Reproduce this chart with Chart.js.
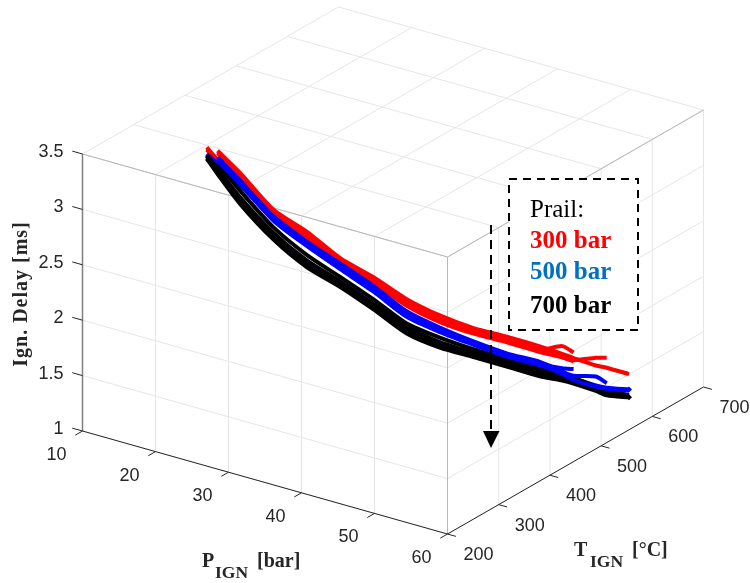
<!DOCTYPE html>
<html>
<head>
<meta charset="utf-8">
<title>Ignition delay</title>
<script src="https://cdn.jsdelivr.net/npm/chart.js@4.4.1/dist/chart.umd.min.js"></script>
<style>
  html, body { margin: 0; padding: 0; background: #fff; }
  canvas { display: block; }
</style>
</head>
<body>
<canvas id="chart" width="750" height="583"></canvas>
<script>
// axis ticks
const pTicks = [10, 20, 30, 40, 50, 60];
const tTicks = [200, 300, 400, 500, 600, 700];
const delayTicks = [1, 1.5, 2, 2.5, 3, 3.5];
const delayTickLabels = ['1', '1.5', '2', '2.5', '3', '3.5'];

// measuring stations along the compression, shared by all curves
const pIgn = [20, 21, 23, 26, 29, 32, 35, 38, 41, 44, 47, 50, 52, 53, 55, 56, 58];
const tIgn = [300, 307, 322, 345, 367, 389, 412, 434, 456, 479, 501, 523, 538, 546, 561, 568, 583];

// ignition delay [ms], null = no reading at that station
const red1 = [null, 3.45, 3.25, 2.91, 2.71, 2.47, 2.29, 2.09, 1.94, 1.82, 1.74, 1.65, 1.58, 1.54, 1.47, 1.45, 1.39];
const red2 = [3.48, 3.37, 3.21, 2.88, 2.68, 2.44, 2.25, 2.05, 1.90, 1.79, 1.71, 1.62, 1.65, 1.59, null, null, null];
const red3 = [null, 3.43, 3.23, 2.89, 2.69, 2.45, 2.27, 2.07, 1.92, 1.80, 1.72, 1.63, 1.55, 1.52, 1.54, 1.54, null];
const red4 = [3.46, 3.36, 3.19, 2.87, 2.66, 2.42, 2.24, 2.03, 1.88, 1.77, 1.69, 1.60, 1.55, 1.51, null, null, null];

const blue1 = [null, 3.39, 3.18, 2.85, 2.62, 2.42, 2.21, 1.98, 1.83, 1.70, 1.59, 1.51, 1.42, 1.36, 1.29, 1.27, 1.25];
const blue2 = [3.42, 3.33, 3.14, 2.82, 2.59, 2.39, 2.18, 1.95, 1.80, 1.68, 1.57, 1.49, 1.45, 1.44, null, null, null];
const blue3 = [null, 3.37, 3.17, 2.83, 2.60, 2.40, 2.19, 1.96, 1.81, 1.69, 1.58, 1.50, 1.42, 1.38, 1.37, 1.31, null];
const blue4 = [null, 3.36, 3.15, 2.81, 2.58, 2.37, 2.16, 1.93, 1.79, 1.67, 1.56, 1.48, 1.40, 1.34, 1.28, 1.26, 1.24];

const black1 = [3.38, 3.24, 2.97, 2.64, 2.39, 2.21, 2.00, 1.78, 1.65, 1.56, 1.47, 1.38, 1.34, 1.31, 1.24, 1.20, 1.18];
const black2 = [null, 3.34, 3.09, 2.75, 2.50, 2.30, 2.09, 1.87, 1.74, 1.63, 1.54, 1.45, 1.39, 1.36, 1.28, 1.25, 1.20];
const black3 = [3.41, 3.29, 3.03, 2.70, 2.45, 2.26, 2.05, 1.84, 1.70, 1.60, 1.51, 1.42, 1.37, 1.33, 1.26, 1.22, 1.19];
const black4 = [3.40, 3.27, 3.00, 2.67, 2.42, 2.23, 2.02, 1.81, 1.67, 1.58, 1.49, 1.40, 1.35, 1.32, 1.25, null, null];

const RED = '#ff0000', BLUE = '#0000ff', BLACK = '#000000', LEGEND_BLUE = '#0070c0';
const GRID = '#e6e6e6', EDGE = '#b8b8b8', AXIS = '#262626';

// MATLAB style orthographic view: data coordinates to the flat x/y of the chart
function projX(p, t) {
  return 82.5 + 7.3 * (p - 10) + 0.512 * (t - 200);
}
function projY(p, t, d) {
  return 431 + 2.06 * (p - 10) - 0.294 * (t - 200) - 110.8 * (d - 1);
}
function pt(p, t, d) {
  return { x: projX(p, t), y: projY(p, t, d) };
}

const datasets = [];

function segment(a, b, color, width) {
  datasets.push({
    data: [pt(a[0], a[1], a[2]), pt(b[0], b[1], b[2])],
    showLine: true, borderColor: color, borderWidth: width, pointRadius: 0
  });
}

const pMin = pTicks[0], pMax = pTicks[5];
const tMin = tTicks[0], tMax = tTicks[5];
const dMin = delayTicks[0], dMax = delayTicks[5];

// grid on the top face and on the two walls
pTicks.forEach(p => {
  segment([p, tMin, dMax], [p, tMax, dMax], GRID, 1);
  segment([p, tMin, dMin], [p, tMin, dMax], GRID, 1);
});
tTicks.forEach(t => {
  segment([pMin, t, dMax], [pMax, t, dMax], GRID, 1);
  segment([pMax, t, dMin], [pMax, t, dMax], GRID, 1);
});
delayTicks.forEach(d => {
  segment([pMin, tMin, d], [pMax, tMin, d], GRID, 1);
  segment([pMax, tMin, d], [pMax, tMax, d], GRID, 1);
});

// box edges
segment([pMin, tMin, dMax], [pMax, tMin, dMax], EDGE, 1);
segment([pMax, tMin, dMax], [pMax, tMax, dMax], EDGE, 1);
segment([pMax, tMin, dMin], [pMax, tMin, dMax], EDGE, 1);

// axes and ticks
segment([pMin, tMin, dMin], [pMin, tMin, dMax], '#808080', 1.5);
segment([pMin, tMin, dMin], [pMax, tMin, dMin], AXIS, 1);
segment([pMax, tMin, dMin], [pMax, tMax, dMin], AXIS, 1);
pTicks.forEach(p => segment([p, tMin, dMin], [p, tMin - 14, dMin], AXIS, 1));
tTicks.forEach(t => segment([pMax, t, dMin], [pMax + 1.15, t, dMin], AXIS, 1));
delayTicks.forEach(d => segment([pMin, tMin, d], [pMin - 1.4, tMin, d], AXIS, 1));

function curve(values, color, endMark) {
  const points = [];
  values.forEach((d, i) => {
    if (d !== null) points.push(pt(pIgn[i], tIgn[i], d));
  });
  datasets.push({
    data: points,
    showLine: true, borderColor: color, borderWidth: 4,
    tension: 0.25, borderCapStyle: 'butt', borderJoinStyle: 'round',
    pointStyle: 'rectRot', backgroundColor: color,
    pointBorderWidth: 0,
    pointRadius: c => (endMark && c.dataIndex === points.length - 1 ? 3 : 0)
  });
}

curve(red1, RED);
curve(red2, RED);
curve(red3, RED);
curve(red4, RED);
curve(blue1, BLUE, true);
curve(black1, BLACK, true);
curve(blue2, BLUE);
curve(black2, BLACK);
curve(black3, BLACK);
curve(blue3, BLUE);
curve(black4, BLACK);
curve(blue4, BLUE);

function label(ctx, text, x, y, font, color, align) {
  ctx.font = font;
  ctx.fillStyle = color;
  ctx.textAlign = align || 'left';
  ctx.fillText(text, x, y);
}

const overlay = {
  id: 'overlay',
  afterDatasetsDraw(chart) {
    const ctx = chart.ctx;
    const sx = chart.scales.x, sy = chart.scales.y;
    const tickFont = '18px "Liberation Sans"';
    const bold = 'bold 20px "Liberation Serif"';
    const sub = 'bold 17.5px "Liberation Serif"';
    const big = 'bold 25px "Liberation Serif"';

    ctx.save();

    // tick labels
    ctx.textBaseline = 'middle';
    delayTicks.forEach((d, i) => {
      const x = sx.getPixelForValue(projX(pMin, tMin));
      const y = sy.getPixelForValue(projY(pMin, tMin, d));
      label(ctx, delayTickLabels[i], x - 19, y - 2, tickFont, AXIS, 'right');
    });
    pTicks.forEach(p => {
      const x = sx.getPixelForValue(projX(p, tMin));
      const y = sy.getPixelForValue(projY(p, tMin, dMin));
      label(ctx, String(p), x - 26, y + 24, tickFont, AXIS, 'center');
    });
    tTicks.forEach(t => {
      const x = sx.getPixelForValue(projX(pMax, t));
      const y = sy.getPixelForValue(projY(pMax, t, dMin));
      label(ctx, String(t), x + 31, y + 21, tickFont, AXIS, 'center');
    });

    // axis titles
    ctx.textBaseline = 'alphabetic';
    label(ctx, 'P', 202, 567, bold, AXIS);
    label(ctx, 'IGN', 215, 578, sub, AXIS);
    label(ctx, '[bar]', 257, 567, bold, AXIS);
    label(ctx, 'T', 574, 556, bold, AXIS);
    label(ctx, 'IGN', 590, 567, sub, AXIS);
    label(ctx, '[°C]', 632, 556, bold, AXIS);

    ctx.save();
    ctx.translate(27, 294);
    ctx.rotate(-Math.PI / 2);
    ctx.letterSpacing = '1px';
    label(ctx, 'Ign. Delay [ms]', 0, 0, bold, AXIS, 'center');
    ctx.restore();

    // dashed arrow
    ctx.strokeStyle = '#000';
    ctx.lineWidth = 2;
    ctx.setLineDash([9, 6]);
    ctx.beginPath();
    ctx.moveTo(491, 225);
    ctx.lineTo(491, 432);
    ctx.stroke();
    ctx.setLineDash([]);
    ctx.fillStyle = '#000';
    ctx.beginPath();
    ctx.moveTo(483, 431);
    ctx.lineTo(499.5, 431);
    ctx.lineTo(491, 448);
    ctx.closePath();
    ctx.fill();

    // legend box
    ctx.fillStyle = '#fff';
    ctx.fillRect(509, 179, 129, 151);
    ctx.setLineDash([8, 6]);
    ctx.strokeRect(509, 179, 129, 151);
    ctx.setLineDash([]);
    label(ctx, 'Prail:', 530, 217, '25px "Liberation Serif"', BLACK);
    label(ctx, '300 bar', 530, 248, big, RED);
    label(ctx, '500 bar', 530, 279, big, LEGEND_BLUE);
    label(ctx, '700 bar', 530, 313, big, BLACK);

    ctx.restore();
  }
};

// chart.js paints dataset 0 last, so flip to keep the curves above the grid
new Chart(document.getElementById('chart'), {
  type: 'scatter',
  data: { datasets: datasets.reverse() },
  plugins: [overlay],
  options: {
    responsive: false,
    animation: false,
    layout: { padding: 0, autoPadding: false },
    plugins: { legend: { display: false }, tooltip: { enabled: false } },
    scales: {
      x: { type: 'linear', min: 0, max: 750, display: false },
      y: { type: 'linear', min: 0, max: 583, reverse: true, display: false }
    }
  }
});
</script>
</body>
</html>
